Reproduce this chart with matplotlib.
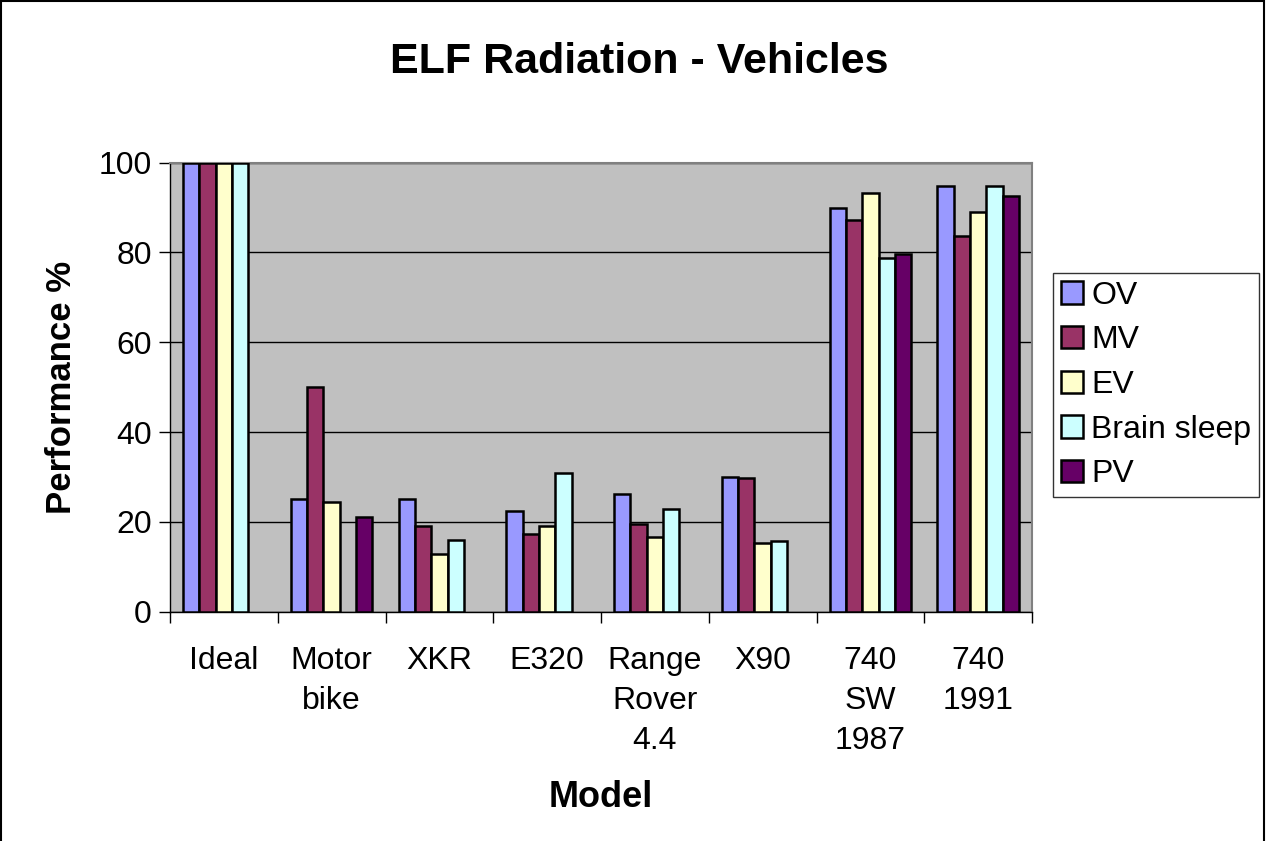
import numpy as np
import matplotlib.pyplot as plt
from matplotlib.patches import Rectangle

plt.rcParams['font.family'] = ['Liberation Sans', 'DejaVu Sans']

models = ["Ideal", "Motor\nbike", "XKR", "E320", "Range\nRover\n4.4", "X90",
          "740\nSW\n1987", "740\n1991"]
series = ["OV", "MV", "EV", "Brain sleep", "PV"]
nan = np.nan
ov = [100, 25.0, 25.0, 22.4, 26.2, 30.0, 89.8, 94.7]
mv = [100, 50.1, 19.1, 17.4, 19.5, 29.8, 87.2, 83.6]
ev = [100, 24.5, 12.9, 19.1, 16.7, 15.4, 93.2, 89.0]
brain_sleep = [100, nan, 16.0, 31.0, 22.9, 15.8, 78.7, 94.7]
pv = [nan, 21.2, nan, nan, nan, nan, 79.7, 92.6]
values = [ov, mv, ev, brain_sleep, pv]
colors = ["#9999FF", "#993366", "#FFFFCC", "#CCFFFF", "#660066"]

fig = plt.figure(figsize=(12.66, 8.41), dpi=100)
ax = fig.add_axes([170 / 1266, 1 - 611.7 / 841, 862 / 1266, 449 / 841])
ax.set_facecolor("#C0C0C0")

x = np.arange(len(models))
w = 0.151
for i, (name, vals, c) in enumerate(zip(series, values, colors)):
    ax.bar(x + (i - 2) * w, vals, width=w, color=c, edgecolor="black",
           linewidth=1.8, label=name, zorder=3)

ax.set_xlim(-0.5, len(models) - 0.5)
ax.set_ylim(0, 100)
ax.set_yticks(range(0, 101, 20))
ax.yaxis.grid(True, color="black", linewidth=1.0, zorder=1)
ax.set_axisbelow(True)

ax.set_xticks(x)
ax.set_xticklabels(models, fontsize=23, linespacing=1.43)
ax.tick_params(axis="x", length=0, pad=25)
ax.set_xticks(np.arange(-0.5, len(models), 1), minor=True)
ax.tick_params(axis="x", which="minor", length=8, width=1, color="black")
ax.tick_params(axis="y", labelsize=23, length=8, width=1, pad=5)

for s in ["top", "right"]:
    ax.spines[s].set_color("#808080")
    ax.spines[s].set_linewidth(1.5)
for s in ["left", "bottom"]:
    ax.spines[s].set_color("black")
    ax.spines[s].set_linewidth(1.0)

ax.set_xlabel("Model", fontsize=26, fontweight="bold", labelpad=17)
ax.set_ylabel("Performance %", fontsize=25, fontweight="bold", labelpad=15)
fig.text(639 / 1266, 1 - 62 / 841, "ELF Radiation - Vehicles",
         ha="center", va="center", fontsize=31, fontweight="bold")

leg = ax.legend(loc="center left", bbox_to_anchor=(1053 / 1266, 1 - 385 / 841),
                bbox_transform=fig.transFigure, fontsize=23, frameon=True,
                fancybox=False, edgecolor="black", handlelength=0.7,
                handleheight=0.7, handletextpad=0.25, borderpad=0.25,
                labelspacing=0.46, borderaxespad=0)
leg.get_frame().set_linewidth(1.0)

fig.patches.append(Rectangle((0.0008, -0.01), 0.9976, 1.0092, transform=fig.transFigure,
                             fill=False, edgecolor="black", linewidth=1.5))

fig.savefig("out.png", dpi=100)
